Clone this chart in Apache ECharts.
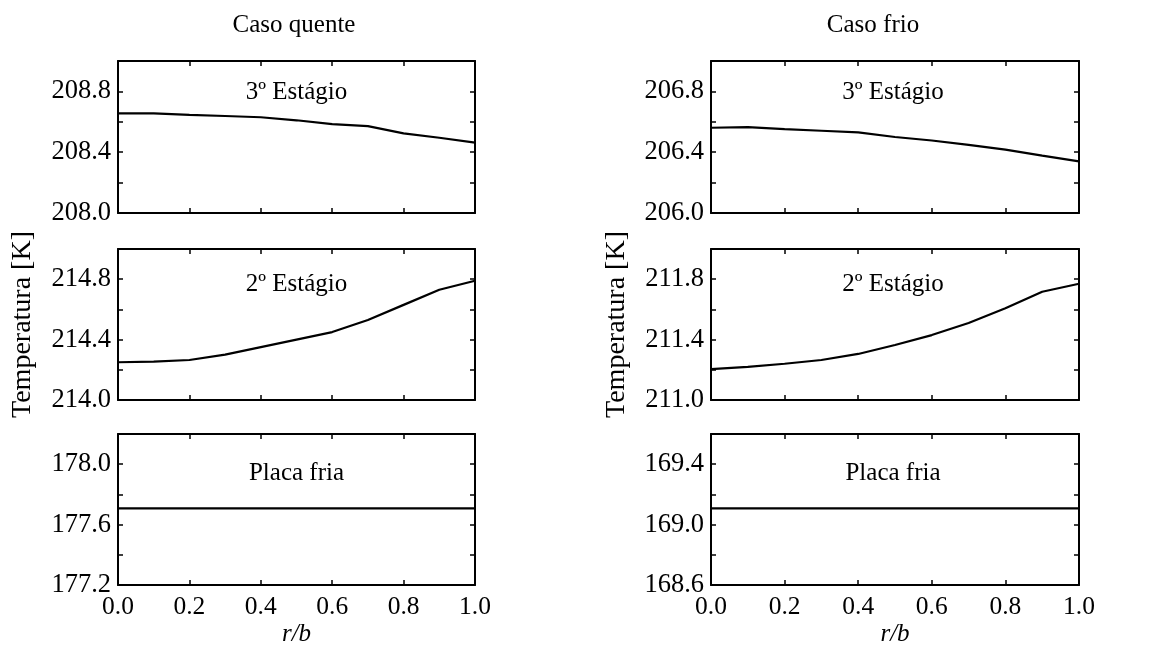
<!DOCTYPE html>
<html>
<head>
<meta charset="utf-8">
<script src="https://cdn.jsdelivr.net/npm/echarts@6/dist/echarts.min.js"></script>
<style>html,body{margin:0;padding:0;background:#fff}#c{width:1168px;height:651px}</style>
</head>
<body>
<div id="c"></div>
<script>
// ---- data ----
const rb = [0.0, 0.1, 0.2, 0.3, 0.4, 0.5, 0.6, 0.7, 0.8, 0.9, 1.0];
const quente3 = [208.656, 208.655, 208.645, 208.638, 208.630, 208.610, 208.585, 208.572, 208.524, 208.495, 208.463];
const quente2 = [214.250, 214.254, 214.265, 214.300, 214.350, 214.400, 214.450, 214.530, 214.630, 214.730, 214.790];
const quenteP = [177.708, 177.708, 177.708, 177.708, 177.708, 177.708, 177.708, 177.708, 177.708, 177.708, 177.708];
const frio3 = [206.561, 206.565, 206.552, 206.541, 206.530, 206.500, 206.477, 206.448, 206.417, 206.377, 206.340];
const frio2 = [211.205, 211.220, 211.240, 211.265, 211.305, 211.364, 211.430, 211.510, 211.607, 211.717, 211.770];
const frioP = [169.108, 169.108, 169.108, 169.108, 169.108, 169.108, 169.108, 169.108, 169.108, 169.108, 169.108];
const yMinQuente = [208.0, 214.0, 177.2];
const yMinFrio = [206.0, 211.0, 168.6];
const ySpan = 1.0;
const xTicks = ['0.0', '0.2', '0.4', '0.6', '0.8', '1.0'];
const colTitles = ['Caso quente', 'Caso frio'];
const panelLabels = ['3º Estágio', '2º Estágio', 'Placa fria'];
const yName = 'Temperatura [K]';
const xName = 'r/b';

// ---- layout ----
const FONT = 'Liberation Serif, Times New Roman, serif';
const cols = [{left: 118, width: 357}, {left: 711, width: 368}];
const rows = [{top: 61, height: 152}, {top: 249, height: 151}, {top: 434, height: 151}];
const seriesData = [[quente3, quente2, quenteP], [frio3, frio2, frioP]];
const yMins = [yMinQuente, yMinFrio];
const yNameGap = [81, 80];

function tick() {
  return {show: true, inside: true, length: 5, lineStyle: {color: '#000', width: 1.5}};
}
function line() {
  return {show: true, onZero: false, lineStyle: {color: '#000', width: 2}};
}

const grids = [], xAxes = [], yAxes = [], series = [], graphics = [];
let gi = 0;
for (let c = 0; c < 2; c++) {
  for (let r = 0; r < 3; r++) {
    grids.push({left: cols[c].left, top: rows[r].top, width: cols[c].width, height: rows[r].height, containLabel: false});
    const ymin = yMins[c][r], ymax = ymin + ySpan;
    const isBottom = r === 2;
    xAxes.push({type: 'value', gridIndex: gi, min: 0, max: 1, interval: 0.2, position: 'bottom',
      splitLine: {show: false}, axisLine: line(), axisTick: tick(),
      axisLabel: {show: isBottom, color: '#000', fontFamily: FONT, fontSize: 25.5, margin: 9,
        formatter: v => { const s = v.toFixed(1); return xTicks.indexOf(s) >= 0 ? s : ''; }},
      name: isBottom ? xName : '', nameLocation: 'middle', nameGap: 37,
      nameTextStyle: {color: '#000', fontFamily: FONT, fontSize: 25, fontStyle: 'italic'}});
    xAxes.push({type: 'value', gridIndex: gi, min: 0, max: 1, interval: 0.2, position: 'top',
      splitLine: {show: false}, axisLine: line(), axisTick: tick(), axisLabel: {show: false}});
    yAxes.push({type: 'value', gridIndex: gi, min: ymin, max: ymax, interval: 0.2, position: 'left',
      splitLine: {show: false}, axisLine: line(), axisTick: tick(),
      axisLabel: {show: true, color: '#000', fontFamily: FONT, fontSize: 26.5, margin: 7,
        formatter: v => { const k = Math.round((v - ymin) / 0.2); return (k % 2 === 0 && v < ymax - 1e-6) ? v.toFixed(1) : ''; }},
      name: r === 1 ? yName : '', nameLocation: 'middle', nameGap: yNameGap[c],
      nameTextStyle: {color: '#000', fontFamily: FONT, fontSize: 28}});
    yAxes.push({type: 'value', gridIndex: gi, min: ymin, max: ymax, interval: 0.2, position: 'right',
      splitLine: {show: false}, axisLine: line(), axisTick: tick(), axisLabel: {show: false}});
    series.push({type: 'line', xAxisIndex: gi * 2, yAxisIndex: gi * 2, showSymbol: false, symbol: 'none',
      lineStyle: {color: '#000', width: 2.2}, data: rb.map((x, i) => [x, seriesData[c][r][i]]), silent: true});
    gi++;
  }
}
// text labels
const colTitlePos = [{x: 294, y: 25}, {x: 873, y: 25}];
for (let c = 0; c < 2; c++) {
  graphics.push({type: 'text', x: colTitlePos[c].x, y: colTitlePos[c].y,
    style: {text: colTitles[c], font: '25px ' + FONT, fill: '#000', align: 'center', verticalAlign: 'middle'}});
  const cx = cols[c].left + cols[c].width / 2 + (c === 0 ? 0 : -2);
  const labY = [92, 284, 473];
  for (let r = 0; r < 3; r++) {
    graphics.push({type: 'text', x: cx, y: labY[r],
      style: {text: panelLabels[r], font: '25px ' + FONT, fill: '#000', align: 'center', verticalAlign: 'middle'}});
  }
}

const chart = echarts.init(document.getElementById('c'), null, {renderer: 'canvas'});
chart.setOption({
  animation: false,
  backgroundColor: '#fff',
  grid: grids, xAxis: xAxes, yAxis: yAxes, series: series, graphic: graphics
});
</script>
</body>
</html>
